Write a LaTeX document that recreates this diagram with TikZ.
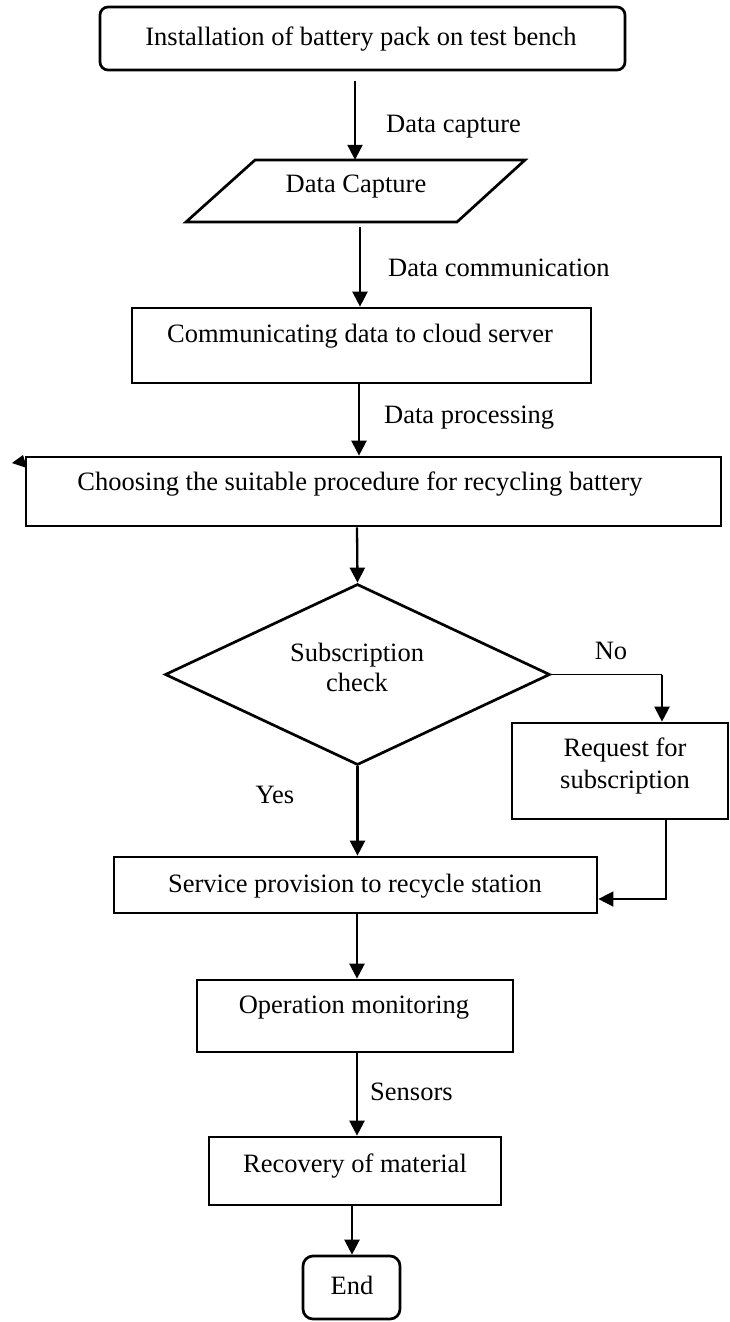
\documentclass[tikz,border=0pt]{standalone}
\usepackage{fontspec}
\setmainfont{Liberation Serif}
\usetikzlibrary{arrows.meta,shapes.geometric}
\begin{document}
\begin{tikzpicture}[x=1pt,y=-1pt,
  box/.style={draw, line width=2.7pt, inner sep=0pt},
  txt/.style={inner sep=0pt, font=\fontsize{26.5}{31}\selectfont, align=center},
  arr/.style={line width=2.3pt, -{Triangle[length=15pt,width=15pt]}},
  thinarr/.style={line width=1.5pt, -{Triangle[length=15pt,width=15pt]}}]
\fill[white] (0,0) rectangle (730,1322);
\useasboundingbox (0,0) rectangle (730,1322);
% axis coordinates
\coordinate (a1) at (355,0);
\coordinate (a2) at (360,0);
\coordinate (a3) at (359,0);
\coordinate (a4) at (357,0);
\coordinate (a5) at (352,0);
\coordinate (n1) at (662,0);
\coordinate (r1) at (666,0);
% nodes
\node[box, rounded corners=8pt, minimum width=525pt, minimum height=63pt] (top) at (362.5,38.5) {};
\node[txt] (toptxt) at (361,39) {Installation of battery pack on test bench};

\node[inner sep=0pt, minimum width=339pt, minimum height=62pt] (cap) at (355.5,191) {};
\draw[line width=2.7pt] (255,160) -- (525,160) -- (457,222) -- (186,222) -- cycle;
\node[txt] (captxt) at (356,187) {Data Capture};

\node[box, minimum width=459pt, minimum height=75pt] (comm) at (361.5,345.5) {};
\node[txt] (commtxt) at (360,336) {Communicating data to cloud server};

\node[box, minimum width=695pt, minimum height=69pt] (choose) at (373.5,491.5) {};
\node[txt] (choosetxt) at (360,484) {Choosing the suitable procedure for recycling battery};
\fill (12,463) -- (23,455) -- (27,468) -- cycle;

\node[box, diamond, minimum width=385pt, minimum height=181pt] (dia) at (357.5,674.5) {};
\node[txt, font=\fontsize{26.5}{30}\selectfont] (diatxt) at (357,667) {Subscription\\check};

\node[box, minimum width=216pt, minimum height=96pt] (req) at (620,771) {};
\node[txt, font=\fontsize{26.5}{32}\selectfont] (reqtxt) at (625,766) {Request for\\subscription};

\node[box, minimum width=483pt, minimum height=56pt] (svc) at (355.5,885) {};
\node[txt] (svctxt) at (355,886) {Service provision to recycle station};

\node[box, minimum width=316pt, minimum height=72pt] (op) at (355,1016) {};
\node[txt] (optxt) at (354,1008) {Operation monitoring};

\node[box, minimum width=292pt, minimum height=68pt] (rec) at (355,1171) {};
\node[txt] (rectxt) at (355,1166) {Recovery of material};

\node[box, rounded corners=10pt, minimum width=97pt, minimum height=63pt] (end) at (351.5,1287.5) {};
\node[txt] (endtxt) at (352,1285) {End};

% labels
\node[txt, anchor=west] (l1) at (386,127) {Data capture};
\node[txt, anchor=west] (l2) at (388,268) {Data communication};
\node[txt, anchor=west] (l3) at (384,418) {Data processing};
\node[txt] (lno) at (611,651) {No};
\node[txt] (lyes) at (275,795) {Yes};
\node[txt, anchor=west] (l4) at (370,1092) {Sensors};

% connectors
\draw[arr, shorten <=10pt] (top.south -| a1) -- (cap.north -| a1);
\draw[arr, shorten <=5pt] (cap.south -| a2) -- (comm.north -| a2);
\draw[arr] (comm.south -| a3) -- (choose.north -| a3);
\draw[arr] (choose.south -| a4) -- (dia.north);
\draw[line width=1.4pt] (dia.east) -- (dia.east -| n1);
\draw[arr] (dia.east -| n1) -- (req.north -| n1);
\draw[arr] (dia.south) -- (svc.north -| dia.south);
\draw[thinarr] (req.south -| r1) |- ([yshift=-14pt]svc.east);
\draw[arr] (svc.south -| a4) -- (op.north -| a4);
\draw[arr] (op.south -| a4) -- (rec.north -| a4);
\draw[arr] (rec.south -| a5) -- (end.north -| a5);
\end{tikzpicture}
\end{document}
